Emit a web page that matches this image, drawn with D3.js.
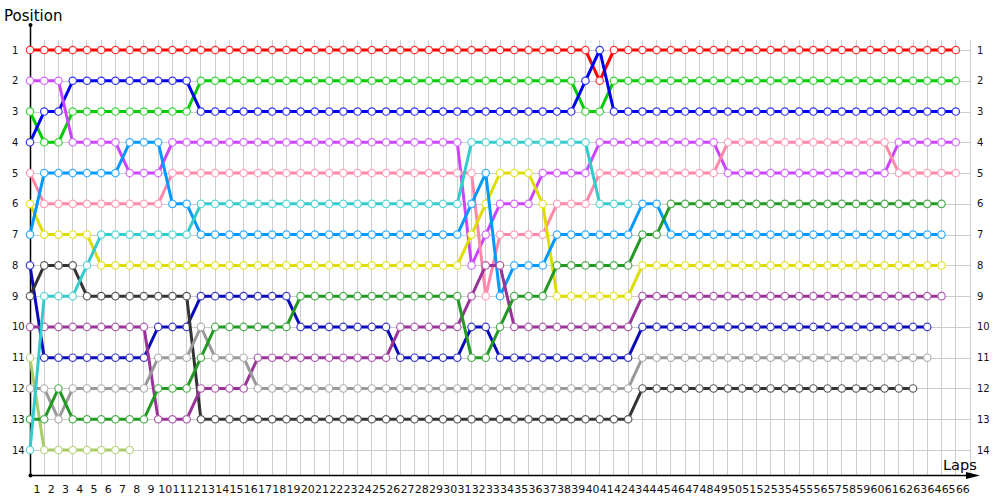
<!DOCTYPE html>
<html><head><meta charset="utf-8">
<script src="https://cdn.jsdelivr.net/npm/d3@7"></script>
<style>body{margin:0;background:#fff}svg{display:block}text{font-family:"DejaVu Sans",Verdana,sans-serif}</style>
</head><body><svg id="c" width="1000" height="500"></svg>
<script>
const lapLabels = d3.range(1, 67).map(String);
const positionLabels = d3.range(1, 15).map(String);
const drivers = ["red","green","blue","magenta","pink","yellow","lightblue","navy","darkgray","darkpurple","lightgreen","gray","darkgreen","turquoise"];
const colors = ["#ff0000","#00cc00","#0000ee","#cc44ff","#ff88aa","#dddd00","#0099ff","#0a0abb","#333333","#993399","#aacc66","#999999","#229922","#33cccc"];

const red = [1,1,1,1,1,1,1,1,1,1, 1,1,1,1,1,1,1,1,1,1, 1,1,1,1,1,1,1,1,1,1, 1,1,1,1,1,1,1,1,1,1, 2,1,1,1,1,1,1,1,1,1, 1,1,1,1,1,1,1,1,1,1, 1,1,1,1,1,1];
const green = [3,4,4,3,3,3,3,3,3,3, 3,3,2,2,2,2,2,2,2,2, 2,2,2,2,2,2,2,2,2,2, 2,2,2,2,2,2,2,2,2,3, 3,2,2,2,2,2,2,2,2,2, 2,2,2,2,2,2,2,2,2,2, 2,2,2,2,2,2];
const blue = [4,3,3,2,2,2,2,2,2,2, 2,2,3,3,3,3,3,3,3,3, 3,3,3,3,3,3,3,3,3,3, 3,3,3,3,3,3,3,3,3,2, 1,3,3,3,3,3,3,3,3,3, 3,3,3,3,3,3,3,3,3,3, 3,3,3,3,3,3];
const magenta = [2,2,2,4,4,4,4,5,5,5, 4,4,4,4,4,4,4,4,4,4, 4,4,4,4,4,4,4,4,4,4, 4,8,7,6,6,6,5,5,5,5, 4,4,4,4,4,4,4,4,4,5, 5,5,5,5,5,5,5,5,5,5, 5,4,4,4,4,4];
const pink = [5,6,6,6,6,6,6,6,6,6, 5,5,5,5,5,5,5,5,5,5, 5,5,5,5,5,5,5,5,5,5, 5,5,9,7,7,7,7,6,6,6, 5,5,5,5,5,5,5,5,5,4, 4,4,4,4,4,4,4,4,4,4, 4,5,5,5,5,5];
const yellow = [6,7,7,7,7,8,8,8,8,8, 8,8,8,8,8,8,8,8,8,8, 8,8,8,8,8,8,8,8,8,8, 8,7,6,5,5,5,6,9,9,9, 9,9,9,8,8,8,8,8,8,8, 8,8,8,8,8,8,8,8,8,8, 8,8,8,8,8];
const lightblue = [7,5,5,5,5,5,5,4,4,4, 6,6,7,7,7,7,7,7,7,7, 7,7,7,7,7,7,7,7,7,7, 7,6,5,9,8,8,8,7,7,7, 7,7,7,6,6,7,7,7,7,7, 7,7,7,7,7,7,7,7,7,7, 7,7,7,7,7];
const navy = [8,11,11,11,11,11,11,11,11,10, 10,10,9,9,9,9,9,9,9,10, 10,10,10,10,10,10,11,11,11,11, 11,10,10,11,11,11,11,11,11,11, 11,11,11,10,10,10,10,10,10,10, 10,10,10,10,10,10,10,10,10,10, 10,10,10,10];
const darkgray = [9,8,8,8,9,9,9,9,9,9, 9,9,13,13,13,13,13,13,13,13, 13,13,13,13,13,13,13,13,13,13, 13,13,13,13,13,13,13,13,13,13, 13,13,13,12,12,12,12,12,12,12, 12,12,12,12,12,12,12,12,12,12, 12,12,12];
const darkpurple = [10,10,10,10,10,10,10,10,10,13, 13,13,12,12,12,12,11,11,11,11, 11,11,11,11,11,11,10,10,10,10, 10,9,8,8,10,10,10,10,10,10, 10,10,10,9,9,9,9,9,9,9, 9,9,9,9,9,9,9,9,9,9, 9,9,9,9,9];
const lightgreen = [11,14,14,14,14,14,14,14];
const gray = [12,12,13,12,12,12,12,12,12,11, 11,11,10,11,11,11,12,12,12,12, 12,12,12,12,12,12,12,12,12,12, 12,12,12,12,12,12,12,12,12,12, 12,12,12,11,11,11,11,11,11,11, 11,11,11,11,11,11,11,11,11,11, 11,11,11,11];
const darkgreen = [13,13,12,13,13,13,13,13,13,12, 12,12,11,10,10,10,10,10,10,9, 9,9,9,9,9,9,9,9,9,9, 9,11,11,10,9,9,9,8,8,8, 8,8,8,7,7,6,6,6,6,6, 6,6,6,6,6,6,6,6,6,6, 6,6,6,6,6];
const turquoise = [14,9,9,9,8,7,7,7,7,7, 7,7,6,6,6,6,6,6,6,6, 6,6,6,6,6,6,6,6,6,6, 6,4,4,4,4,4,4,4,4,4, 6,6,6];

const series = [red,green,blue,magenta,pink,yellow,lightblue,navy,darkgray,darkpurple,lightgreen,gray,darkgreen,turquoise];

const svg = d3.select("#c");
const x = d3.scaleLinear().domain([0, 66]).range([30, 970]);
const y = d3.scaleLinear().domain([1, 14]).range([50, 450]);

// grid
const g = svg.append("g");
g.selectAll("line.v").data(d3.range(0, 67)).join("line")
  .attr("x1", d => x(d)).attr("x2", d => x(d)).attr("y1", 40).attr("y2", 475)
  .attr("stroke", "#cccccc").attr("stroke-width", 1).attr("shape-rendering","crispEdges");
g.selectAll("line.h").data(positionLabels).join("line")
  .attr("x1", 30).attr("x2", 970).attr("y1", d => Math.round(y(+d))+0.5).attr("y2", d => Math.round(y(+d))+0.5)
  .attr("stroke", "#cccccc").attr("stroke-width", 1);

// axis labels
const ax = svg.append("g").attr("font-size", 11).attr("fill", "#111");
ax.selectAll("text.xl").data(lapLabels).join("text")
  .attr("x", (d, i) => x(i + 0.5)).attr("y", 493).attr("text-anchor", "middle")
  .attr("font-size", 11).text(d => d);
ax.selectAll("text.yl").data(positionLabels).join("text")
  .attr("x", 12).attr("y", d => y(+d)).attr("dy", "0.35em").attr("font-size", 10).text(d => d);
ax.selectAll("text.yr").data(positionLabels).join("text")
  .attr("x", 977).attr("y", d => y(+d)).attr("dy", "0.35em").attr("font-size", 10).text(d => d);

// axes lines
svg.append("line").attr("x1", 30.5).attr("x2", 30.5).attr("y1", 25).attr("y2", 475).attr("stroke", "#000").attr("stroke-width", 1.5);
svg.append("line").attr("x1", 30).attr("x2", 970).attr("y1", 475.5).attr("y2", 475.5).attr("stroke", "#000").attr("stroke-width", 1.5);
svg.append("path").attr("d", "M966,472 L980,475.5 L966,479 Z").attr("fill", "#000");
svg.append("circle").attr("cx", 30.5).attr("cy", 25).attr("r", 2).attr("fill", "#000");
svg.append("circle").attr("cx", 30.5).attr("cy", 475.5).attr("r", 2).attr("fill", "#000");

svg.append("text").attr("x", 4).attr("y", 21).attr("font-size", 15).attr("fill", "#000").text("Position");
svg.append("text").attr("x", 943).attr("y", 470).attr("font-size", 14.5).attr("fill", "#000").text("Laps");

// series
const line = d3.line().x((d, i) => x(i)).y(d => y(d));
series.forEach((s, si) => {
  const c = colors[si];
  const gs = svg.append("g").attr("class", drivers[si]);
  gs.append("path").attr("d", line(s)).attr("fill", "none").attr("stroke", c)
    .attr("stroke-width", 3).attr("stroke-linejoin", "round");
  gs.selectAll("circle").data(s).join("circle")
    .attr("cx", (d, i) => x(i)).attr("cy", d => y(d)).attr("r", 3.7)
    .attr("fill", "#fff").attr("stroke", d3.interpolateRgb(c, "#fff")(0.2)).attr("stroke-width", 1.2);
});
</script></body></html>
